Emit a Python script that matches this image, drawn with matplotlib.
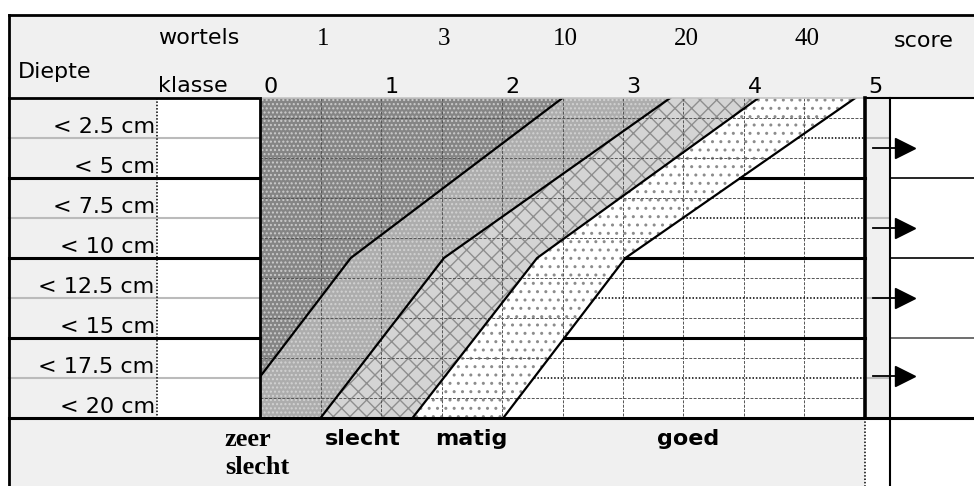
import numpy as np
import matplotlib.pyplot as plt
from matplotlib.patches import Polygon, Rectangle

# --- data: grenslijnen (klasse-waarde per diepte in cm) ---
diepte_knik = [0, 10, 20]
grens_zeer_slecht = [2.50, 0.75, -0.26]
grens_slecht = [3.39, 1.52, 0.50]
grens_matig = [4.12, 2.29, 1.26]
grens_goed = [4.92, 3.02, 2.01]

klasses = ["0", "1", "2", "3", "4", "5"]
wortels = ["1", "3", "10", "20", "40"]
diepte_rij = [2.5, 5, 7.5, 10, 12.5, 15, 17.5, 20]
diepte_labels = ["< 2.5 cm", "< 5 cm", "< 7.5 cm", "< 10 cm",
                 "< 12.5 cm", "< 15 cm", "< 17.5 cm", "< 20 cm"]
pijl_diepte = [3.1, 8.1, 12.5, 17.4]
oordeel = ["zeer\nslecht", "slecht", "matig", "goed"]

# --- layout (klasse-eenheden horizontaal, cm verticaal) ---
X_LEFT, X_LABEL, X_SCORE, X_RIGHT = -2.074, -0.851, 5.207, 5.901
Y_TOP, Y_BOTTOM = -5.19, 24.25
oordeel_x = [-0.29, 0.54, 1.45, 3.28]
GRIJS = "#f0f0f0"
SANS = "DejaVu Sans"
SERIF = "Liberation Serif"

plt.rcParams["hatch.linewidth"] = 1.0

fig = plt.figure(figsize=(9.74, 4.86), dpi=100)
ax = fig.add_axes([0, 0, 1, 1])
ax.set_xlim(-2.149, 5.901)
ax.set_ylim(24.25, -6.125)
ax.axis("off")

# --- achtergronden ---
for x0, y0, w, h in [
    (X_LEFT, Y_TOP, X_RIGHT - X_LEFT, -Y_TOP),
    (X_LEFT, 0, X_LABEL - X_LEFT, 20),
    (5, 0, X_SCORE - 5, 20),
    (X_LEFT, 20, 5 - X_LEFT, Y_BOTTOM - 20),
]:
    ax.add_patch(Rectangle((x0, y0), w, h, facecolor=GRIJS, edgecolor="none", zorder=0))

clip = Rectangle((0, 0), 5, 20, transform=ax.transData, facecolor="none", edgecolor="none")

# --- zones ---
links = [-1, -1, -1]
zones = [
    (links, grens_zeer_slecht, "#858585", "#cccccc", "...."),
    (grens_zeer_slecht, grens_slecht, "#adadad", "#d2d2d2", "...."),
    (grens_slecht, grens_matig, "#d4d4d4", "#8e8e8e", "xx"),
    (grens_matig, grens_goed, "white", "#8c8c8c", ".."),
]
for g1, g2, fc, hc, hatch in zones:
    pts = list(zip(g1, diepte_knik)) + list(zip(g2[::-1], diepte_knik[::-1]))
    poly = Polygon(pts, closed=True, facecolor=fc, edgecolor=hc, hatch=hatch, lw=0, zorder=1)
    ax.add_patch(poly)
    poly.set_clip_path(clip)

# --- raster ---
for k in np.arange(0.5, 5, 0.5):
    ax.plot([k, k], [0, 20], color="#555555", lw=0.7, ls=(0, (3, 1.5)), zorder=2)
for d in np.arange(1.25, 20, 2.5):
    ax.plot([0, 5], [d, d], color="#555555", lw=0.7, ls=(0, (3, 1.5)), zorder=2)

# --- grenslijnen ---
for g in [grens_zeer_slecht, grens_slecht, grens_matig, grens_goed]:
    ln, = ax.plot(g, diepte_knik, color="black", lw=1.6, zorder=3)
    ln.set_clip_path(clip)

# --- rijlijnen ---
for d in diepte_rij[:-1]:
    x0 = np.interp(d, diepte_knik, grens_goed)
    if d % 5 == 0:
        ax.plot([X_LEFT, 0], [d, d], color="black", lw=2.2, zorder=3)
        ax.plot([x0, 5], [d, d], color="black", lw=2.2, zorder=3)
        ax.plot([X_SCORE, X_RIGHT], [d, d], color="black" if d < 15 else "#555555", lw=1.2, zorder=3)
    else:
        ax.plot([X_LEFT, 0], [d, d], color="#bbbbbb", lw=1.5, zorder=3)
        ax.plot([x0, 5], [d, d], color="black", lw=1.1, ls=(0, (1, 1.2)), zorder=3)
        ax.plot([5, X_SCORE], [d, d], color="#bbbbbb", lw=1.5, zorder=3)
ax.plot([X_LEFT, X_RIGHT], [20, 20], color="black", lw=2.2, zorder=4)

# --- kaderlijnen ---
ax.plot([X_LEFT, X_RIGHT], [Y_TOP, Y_TOP], color="black", lw=2, zorder=4)
ax.plot([X_LEFT, X_LEFT], [Y_TOP, Y_BOTTOM], color="black", lw=2, zorder=4)
ax.plot([X_LEFT, 0], [0, 0], color="black", lw=2, zorder=4)
ax.plot([0, 5], [0, 0], color="#c4c4c4", lw=1.2, zorder=4)
ax.plot([5, X_RIGHT], [0, 0], color="black", lw=1.5, zorder=4)
ax.plot([X_LABEL, X_LABEL], [0, 20], color="black", lw=1.1, ls=(0, (1, 1.2)), zorder=4)
ax.plot([0, 0], [0, 20], color="black", lw=2, zorder=4)
ax.plot([5, 5], [0, 20], color="black", lw=2.6, zorder=4)
ax.plot([5, 5], [20, Y_BOTTOM], color="black", lw=1.1, ls=(0, (1, 1.2)), zorder=4)
ax.plot([X_SCORE, X_SCORE], [0, Y_BOTTOM], color="black", lw=1.5, zorder=4)

# --- pijlen ---
for d in pijl_diepte:
    ax.plot([5.066, 5.27], [d, d], color="black", lw=1.3, zorder=5)
    ax.plot(5.33, d, marker=">", ms=14.5, color="black", zorder=5)

# --- teksten ---
ax.text(-2.0, -1.25, "Diepte", fontsize=16, family=SANS, va="baseline")
ax.text(-0.843, -3.35, "wortels", fontsize=16, family=SANS, va="baseline")
ax.text(-0.843, -0.4, "klasse", fontsize=16, family=SANS, va="baseline")
ax.text(5.24, -3.2, "score", fontsize=16, family=SANS, va="baseline")
for i, lab in enumerate(klasses):
    ax.text(i + 0.03, -0.3, lab, fontsize=16, family=SANS, va="baseline")
for i, lab in enumerate(wortels):
    ax.text(0.5 + i + 0.02, -3.3, lab, fontsize=18, family=SERIF, va="baseline", ha="center")
for d, lab in zip(diepte_rij, diepte_labels):
    ax.text(X_LABEL - 0.02, d - 0.33, lab, fontsize=16, family=SANS, va="baseline", ha="right")
for i, (x, lab) in enumerate(zip(oordeel_x, oordeel)):
    if i == 0:
        for j, regel in enumerate(lab.split("\n")):
            ax.text(x, 21.75 + 1.75 * j, regel, fontsize=19, family=SERIF, weight="bold", va="baseline")
    else:
        ax.text(x, 21.7, lab, fontsize=16, family=SANS, weight="bold", va="baseline")

fig.savefig("out.png", dpi=100)
